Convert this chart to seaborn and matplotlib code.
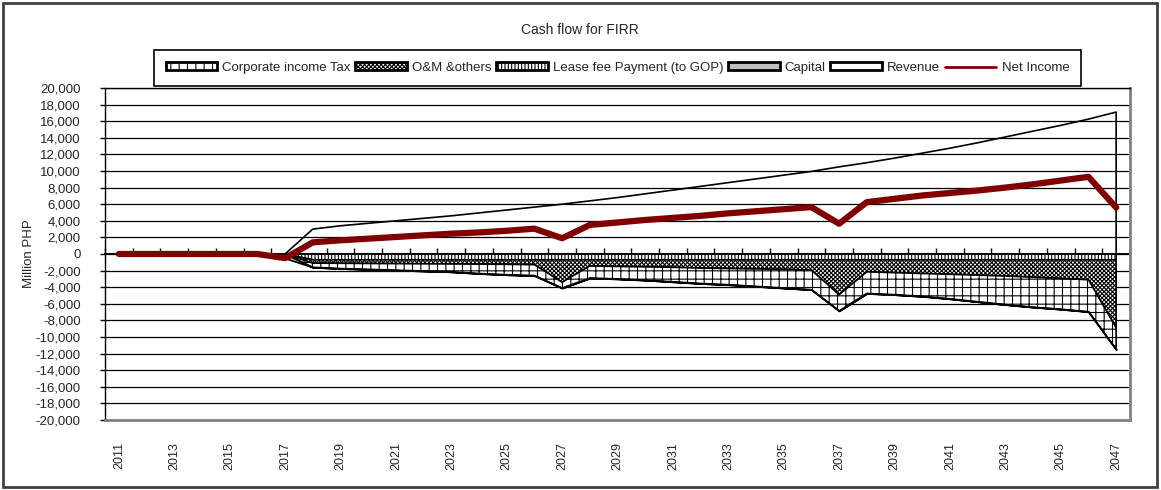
import numpy as np
import pandas as pd
import matplotlib
matplotlib.use("Agg")
import matplotlib.pyplot as plt
import seaborn as sns
from matplotlib.patches import Patch, Rectangle
from matplotlib.lines import Line2D
from matplotlib.ticker import FuncFormatter

# ---------------- data (Million PHP) ----------------
years = list(range(2011, 2048))
revenue = [0, 0, 0, 0, 0, 0, 0,
           3000, 3400, 3700, 4000, 4300, 4600, 4950, 5300, 5650, 6000,
           6400, 6800, 7250, 7700, 8150, 8600, 9050, 9500, 9950, 10500,
           11000, 11550, 12150, 12750, 13400, 14100, 14800, 15500, 16250, 17100]
capital = [0, 0, 0, 0, 0, 0, -500] + [0] * 30
lease_fee = [0, 0, 0, 0, 0, 0, 0] + [-700] * 30
om_others = [0, 0, 0, 0, 0, 0, 0,
             -400, -420, -440, -460, -480, -500, -520, -550, -580, -2700,
             -750, -800, -850, -900, -1000, -1050, -1100, -1150, -1250, -4200,
             -1450, -1550, -1650, -1750, -1850, -1950, -2100, -2250, -2400, -8200]
corp_tax = [0, 0, 0, 0, 0, 0, 0,
            -500, -630, -710, -790, -870, -950, -1130, -1250, -1320, -700,
            -1450, -1500, -1600, -1750, -1850, -1950, -2100, -2250, -2350, -1950,
            -2600, -2650, -2750, -2950, -3200, -3450, -3600, -3700, -3850, -2600]
net_income = [0, 0, 0, 0, 0, 0, -500,
              1400, 1650, 1850, 2050, 2250, 2450, 2600, 2800, 3050, 1900,
              3500, 3800, 4100, 4350, 4600, 4900, 5150, 5400, 5650, 3650,
              6250, 6650, 7050, 7350, 7650, 8000, 8400, 8850, 9300, 5600]

df = pd.DataFrame({
    "year": years,
    "pos": np.arange(len(years)),
    "Revenue": revenue,
    "Capital": capital,
    "Lease": lease_fee,
    "OM": om_others,
    "Tax": corp_tax,
    "Net Income": net_income,
})

# ---------------- style ----------------
sns.set_theme(style="white")
plt.rcParams["font.family"] = ["Liberation Sans", "DejaVu Sans"]
plt.rcParams["hatch.linewidth"] = 0.8

W, H = 1161, 490
fig = plt.figure(figsize=(W / 100, H / 100), dpi=100)
ax = fig.add_axes([105 / W, 1 - 420 / H, (1130 - 105) / W, (420 - 88) / H])

x = df["pos"].to_numpy()
red = "#800000"
OM_HATCH = "xxxxxxxx"

# negative stack (from zero downward)
layers = [
    ("Lease", "white", "|||||"),
    ("OM", "white", OM_HATCH),
    ("Tax", "white", "++"),
    ("Capital", "#c0c0c0", None),
]
base = np.zeros(len(x))
for col, fc, hatch in layers:
    top = base.copy()
    base = base + df[col].to_numpy(dtype=float)
    ax.fill_between(x, top, base, facecolor=fc, edgecolor="black",
                    hatch=hatch, linewidth=1.2, zorder=2)

# revenue area (positive)
ax.fill_between(x, 0, df["Revenue"].to_numpy(dtype=float), facecolor="none",
                edgecolor="black", linewidth=1.2, zorder=2)

# net income line
sns.lineplot(data=df, x="pos", y="Net Income", color=red, linewidth=4.5,
             ax=ax, zorder=5, legend=False)

# axes
ax.set_xlim(-0.5, len(years) - 0.5)
ax.set_ylim(-20000, 20000)
ax.set_yticks(np.arange(-20000, 20001, 2000))
ax.yaxis.set_major_formatter(FuncFormatter(lambda v, p: f"{int(round(v)):,}"))
ax.yaxis.grid(True, color="black", linewidth=0.9)
ax.xaxis.grid(False)
ax.set_axisbelow(True)

ax.set_xticks(x[::2])
ax.set_xticklabels([str(y) for y in years[::2]], rotation=90,
                   family=["Liberation Sans Narrow", "Liberation Sans", "DejaVu Sans"],
                   fontsize=9)
ax.tick_params(axis="x", length=0, pad=16)
ax.tick_params(axis="y", direction="out", length=3.6, width=1, color="black",
               pad=14, labelsize=9.5, left=True)
ax.set_xlabel("")
ax.set_ylabel("Million PHP", fontsize=9.5, labelpad=0)

for s in ["left", "top"]:
    ax.spines[s].set_color("black")
    ax.spines[s].set_linewidth(1.0)
for s in ["right", "bottom"]:
    ax.spines[s].set_color("#808080")
    ax.spines[s].set_linewidth(2.0)

# category axis crossing at zero, ticks between categories
sec = ax.secondary_xaxis(0.5)
sec.set_xticks(np.arange(-0.5, len(years), 1.0))
sec.set_xticklabels([])
sec.tick_params(length=4, width=1, color="black", direction="out")
for s in sec.spines.values():
    s.set_color("black")
    s.set_linewidth(1.4)

# title
fig.text(580 / W, 1 - 30 / H, "Cash flow for FIRR", ha="center", va="center",
         fontsize=10)

# legend
handles = [
    Patch(facecolor="white", edgecolor="black", hatch="++", linewidth=2,
          label="Corporate income Tax"),
    Patch(facecolor="white", edgecolor="black", hatch=OM_HATCH, linewidth=2,
          label="O&M &others"),
    Patch(facecolor="white", edgecolor="black", hatch="|||||", linewidth=2,
          label="Lease fee Payment (to GOP)"),
    Patch(facecolor="#c0c0c0", edgecolor="black", linewidth=2, label="Capital"),
    Patch(facecolor="white", edgecolor="black", linewidth=2, label="Revenue"),
    Line2D([0], [0], color=red, linewidth=2, label="Net Income"),
]
leg = fig.legend(handles=handles, loc="center",
                 bbox_to_anchor=(617.5 / W, 1 - 68 / H), ncol=6, frameon=True,
                 fontsize=9.5, handlelength=3.9, handleheight=0.55,
                 handletextpad=0.4, columnspacing=0.35, borderpad=0.9,
                 fancybox=False, edgecolor="black", framealpha=1)
leg.get_frame().set_linewidth(1.2)
leg.set_zorder(10)

# outer chart border
fig.patches.append(Rectangle((3 / W, 3 / H), 1154 / W, 484 / H,
                             transform=fig.transFigure, fill=False,
                             edgecolor="#404040", linewidth=2))

fig.savefig("out.png", dpi=100)
